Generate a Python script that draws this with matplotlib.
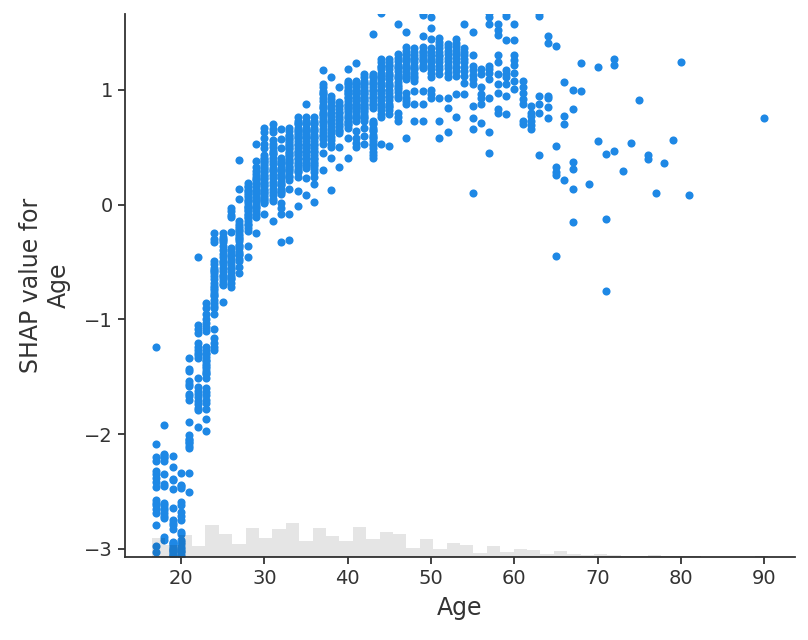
import numpy as np
import matplotlib
matplotlib.use("Agg")
from matplotlib import pyplot as plt

# SHAP values for Age (one list per age)
s17 = [-1.24, -2.09, -2.20, -2.23, -2.32, -2.38, -2.42, -2.46, -2.57, -2.62, -2.65, -2.69, -2.79, -2.97, -3.03, -2.60, -2.35]
s18 = [-1.92, -2.17, -2.20, -2.23, -2.35, -2.43, -2.60, -2.64, -2.69, -2.73, -2.90, -2.92, -2.18, -2.62, -2.66, -2.71, -2.45, -2.21]
s19 = [-2.19, -2.29, -2.39, -2.48, -2.64, -2.75, -2.79, -2.83, -2.94, -2.97, -3.00, -3.03, -3.06, -2.96, -3.01, -3.04,
       -2.99, -2.77, -2.40, -2.95, -3.02, -3.05]
s20 = [-2.34, -2.44, -2.47, -2.59, -2.68, -2.75, -2.85, -2.94, -2.98, -3.03, -3.07, -2.96, -3.00, -3.05, -2.92, -2.87,
       -2.62, -2.71, -2.45, -3.02]
s21 = [-1.34, -1.43, -1.54, -1.56, -1.65, -1.70, -1.89, -2.01, -2.04, -2.07, -2.10, -2.12, -2.34, -2.50, -1.58, -1.67,
       -2.05, -1.45, -2.08]
s22 = [-0.46, -1.05, -1.08, -1.12, -1.21, -1.24, -1.27, -1.31, -1.34, -1.51, -1.59, -1.62, -1.65, -1.68, -1.71, -1.74,
       -1.77, -1.79, -1.94, -1.29]
s23 = [-0.86, -0.90, -0.95, -1.00, -1.03, -1.07, -1.10, -1.24, -1.27, -1.30, -1.33, -1.36, -1.39, -1.42, -1.45, -1.48,
       -1.51, -1.60, -1.63, -1.66, -1.70, -1.73, -1.78, -1.87, -1.97, -1.29, -1.35, -1.41, -1.47]
s24 = [-0.25, -0.30, -0.33, -0.49, -0.52, -0.55, -0.58, -0.60, -0.62, -0.68, -0.71, -0.74, -0.77, -0.80, -0.83, -0.86,
       -0.90, -0.95, -1.08, -1.16, -1.21, -1.24, -1.27, -0.65, -0.73, -0.79, -0.57, -0.88]
s25 = [-0.25, -0.28, -0.31, -0.33, -0.43, -0.46, -0.49, -0.52, -0.55, -0.58, -0.61, -0.64, -0.67, -0.69, -0.85, -0.36,
       -0.40, -0.50, -0.62, -0.30, -0.70]
s26 = [-0.03, -0.06, -0.09, -0.11, -0.24, -0.38, -0.41, -0.44, -0.47, -0.50, -0.53, -0.56, -0.59, -0.62, -0.65, -0.68,
       -0.72, -0.45, -0.55, -0.64, -0.40]
s27 = [0.39, 0.14, 0.05, -0.14, -0.17, -0.20, -0.23, -0.26, -0.29, -0.32, -0.35, -0.38, -0.41, -0.44, -0.47, -0.49,
       -0.54, -0.60, -0.22, -0.30, -0.36, -0.43, -0.19, -0.27]
s28 = [0.19, 0.16, 0.13, 0.10, 0.07, 0.04, 0.01, -0.02, -0.05, -0.08, -0.11, -0.14, -0.17, -0.20, -0.23, -0.36, -0.46,
       0.12, 0.03, -0.06, -0.12, 0.08, -0.01, -0.18, 0.15, -0.09, -0.03]
s29 = [0.53, 0.38, 0.33, 0.29, 0.24, 0.21, 0.18, 0.15, 0.12, 0.09, 0.06, 0.03, 0.00, -0.03, -0.06, -0.08, -0.11, -0.25,
       0.27, 0.19, 0.10, 0.04, -0.02, 0.13, 0.22, 0.07]
s30 = [0.67, 0.63, 0.53, 0.49, 0.43, 0.40, 0.37, 0.34, 0.31, 0.28, 0.25, 0.22, 0.19, 0.16, 0.13, 0.10, 0.07, 0.04, 0.01,
       -0.08, 0.41, 0.35, 0.29, 0.23, 0.17, 0.11, 0.05, 0.38, 0.26, 0.14, 0.02, 0.32, 0.20, 0.08, 0.58]
s31 = [0.70, 0.66, 0.63, 0.56, 0.53, 0.50, 0.47, 0.44, 0.41, 0.38, 0.35, 0.32, 0.29, 0.26, 0.23, 0.20, 0.17, 0.14, 0.11,
       0.08, 0.05, 0.03, -0.14, 0.45, 0.30]
s32 = [0.66, 0.57, 0.49, 0.41, 0.38, 0.35, 0.32, 0.29, 0.26, 0.23, 0.20, 0.17, 0.14, 0.11, 0.09, 0.01, -0.03, -0.08,
       -0.33, 0.36, 0.30, 0.24, 0.18, 0.12, 0.27]
s33 = [0.67, 0.64, 0.61, 0.58, 0.55, 0.52, 0.49, 0.46, 0.43, 0.40, 0.37, 0.34, 0.31, 0.28, 0.25, 0.21, 0.14, -0.08,
       -0.31, 0.60, 0.54, 0.48, 0.42, 0.36, 0.30, 0.24, 0.57, 0.45, 0.33, 0.51, 0.39]
s34 = [0.76, 0.73, 0.70, 0.67, 0.64, 0.61, 0.58, 0.55, 0.52, 0.49, 0.46, 0.43, 0.40, 0.37, 0.34, 0.31, 0.28, 0.24, 0.12,
       -0.01, 0.71, 0.65, 0.59, 0.53, 0.47, 0.41, 0.35, 0.29, 0.62, 0.44]
s35 = [0.88, 0.76, 0.73, 0.70, 0.67, 0.64, 0.61, 0.58, 0.55, 0.52, 0.49, 0.46, 0.43, 0.40, 0.37, 0.34, 0.32, 0.23, 0.08,
       0.71, 0.65, 0.59, 0.53, 0.47, 0.41, 0.35, 0.62, 0.50]
s36 = [0.76, 0.73, 0.70, 0.67, 0.64, 0.61, 0.58, 0.55, 0.52, 0.49, 0.46, 0.43, 0.40, 0.37, 0.34, 0.31, 0.28, 0.24, 0.18,
       0.02, 0.71, 0.65, 0.59, 0.53, 0.47, 0.41, 0.35]
s37 = [1.17, 1.05, 1.02, 0.99, 0.96, 0.93, 0.90, 0.87, 0.84, 0.81, 0.78, 0.75, 0.72, 0.69, 0.66, 0.63, 0.60, 0.57, 0.53,
       0.45, 0.30, 0.97, 0.85, 0.73, 0.61, 0.79]
s38 = [1.11, 0.95, 0.92, 0.89, 0.86, 0.83, 0.80, 0.77, 0.74, 0.71, 0.68, 0.65, 0.62, 0.59, 0.56, 0.53, 0.50, 0.41, 0.13]
s39 = [1.02, 0.89, 0.86, 0.83, 0.80, 0.77, 0.74, 0.71, 0.68, 0.65, 0.62, 0.50, 0.33, 0.87, 0.81, 0.75, 0.69, 0.64]
s40 = [1.18, 1.08, 1.05, 1.02, 0.99, 0.96, 0.93, 0.90, 0.87, 0.84, 0.81, 0.78, 0.75, 0.72, 0.69, 0.67, 0.58, 0.41, 1.06,
       1.00, 0.94, 0.88, 0.82, 0.76, 0.70, 0.97, 0.85, 0.73]
s41 = [1.23, 1.08, 1.05, 1.02, 0.99, 0.96, 0.93, 0.90, 0.87, 0.84, 0.81, 0.78, 0.75, 0.73, 0.64, 0.58, 0.54, 0.50, 1.06,
       1.00, 0.94, 0.88, 0.82, 0.76, 0.97, 0.85, 0.91, 1.03]
s42 = [1.14, 1.11, 1.08, 1.05, 1.02, 0.99, 0.96, 0.93, 0.90, 0.87, 0.84, 0.81, 0.78, 0.75, 0.73, 0.67, 0.60, 0.53, 1.06,
       1.00, 0.94, 0.88, 0.82, 0.76, 0.97, 0.91, 0.85]
s43 = [1.49, 1.14, 1.11, 1.08, 1.05, 1.02, 0.99, 0.96, 0.93, 0.90, 0.87, 0.84, 0.73, 0.70, 0.67, 0.64, 0.61, 0.58, 0.55,
       0.52, 0.49, 0.46, 0.43, 0.41, 1.12, 1.06, 1.00, 0.94, 0.88, 0.71, 0.65, 0.59, 0.53]
s44 = [1.67, 1.27, 1.24, 1.21, 1.18, 1.15, 1.12, 1.09, 1.06, 1.03, 1.00, 0.97, 0.94, 0.91, 0.88, 0.85, 0.82, 0.79, 0.76,
       0.53, 1.20, 1.10, 1.00]
s45 = [1.27, 1.24, 1.21, 1.18, 1.15, 1.12, 1.09, 1.06, 1.03, 1.00, 0.97, 0.94, 0.91, 0.88, 0.85, 0.82, 0.79, 0.51, 1.22,
       1.13, 1.04, 0.95, 0.86]
s46 = [1.57, 1.31, 1.28, 1.25, 1.22, 1.19, 1.16, 1.13, 1.10, 1.07, 1.04, 1.01, 0.98, 0.95, 0.93, 0.80, 0.76, 0.73, 1.20,
       1.11, 1.02]
s47 = [1.50, 1.37, 1.34, 1.31, 1.28, 1.25, 1.22, 1.19, 1.16, 1.13, 1.09, 0.97, 0.93, 0.90, 0.88, 0.58, 1.30, 1.20, 1.11,
       1.26, 1.15]
s48 = [1.36, 1.33, 1.30, 1.27, 1.24, 1.21, 1.18, 1.15, 1.12, 1.08, 0.99, 0.88, 0.73, 1.70, 1.28, 1.19, 1.10]
s49 = [1.67, 1.65, 1.47, 1.37, 1.34, 1.31, 1.28, 1.25, 1.22, 1.19, 0.99, 0.88, 0.73, 1.33, 1.26, 1.20, 1.29]
s50 = [1.63, 1.54, 1.44, 1.36, 1.33, 1.30, 1.27, 1.24, 1.21, 1.18, 1.15, 1.11, 1.00, 0.96, 0.93, 1.25]
s51 = [1.45, 1.42, 1.39, 1.36, 1.33, 1.30, 1.27, 1.24, 1.21, 1.18, 1.14, 0.93, 0.73, 0.58, 1.29]
s52 = [1.40, 1.37, 1.34, 1.31, 1.28, 1.25, 1.22, 1.19, 1.15, 1.11, 0.93, 0.84, 0.63]
s53 = [1.44, 1.41, 1.38, 1.35, 1.32, 1.28, 1.24, 1.20, 1.16, 1.12, 0.96, 0.76, 1.30]
s54 = [1.57, 1.36, 1.33, 1.30, 1.27, 1.24, 1.20, 1.16, 1.12, 1.06, 0.96]
s55 = [1.50, 1.30, 1.17, 1.13, 1.09, 1.05, 0.86, 0.75, 0.66, 0.10, 1.21]
s56 = [1.18, 1.02, 0.93, 0.88, 0.71, 1.14, 0.96]
s57 = [1.67, 1.63, 1.57, 1.21, 1.15, 1.09, 0.93, 0.63, 0.45, 1.18]
s58 = [1.57, 1.52, 1.48, 1.30, 1.24, 1.14, 1.05, 0.97, 0.83, 0.80]
s59 = [1.67, 1.64, 1.43, 1.17, 1.11, 1.05, 0.95, 0.79, 1.14]
s60 = [1.57, 1.43, 1.30, 1.22, 1.15, 1.08, 1.01, 1.26]
s61 = [1.08, 0.97, 0.88, 0.73, 0.70, 0.92, 1.02]
s62 = [0.86, 0.80, 0.73, 0.66, 0.69, 0.77]
s63 = [1.67, 1.64, 0.95, 0.88, 0.80, 0.43]
s64 = [1.47, 1.41, 0.95, 0.93, 0.85, 0.75]
s65 = [1.38, 0.51, 0.33, 0.28, 0.26, -0.45]
s66 = [1.07, 0.77, 0.70, 0.21]
s67 = [1.00, 0.83, 0.37, 0.31, 0.14, -0.15]
s68 = [1.23, 0.99]
s69 = [0.18]
s70 = [1.20, 0.55]
s71 = [0.44, -0.13, -0.75]
s72 = [1.27, 1.22, 0.47]
s73 = [0.29]
s74 = [0.54]
s75 = [0.91]
s76 = [0.43, 0.40]
s77 = [0.10]
s78 = [0.36]
s79 = [0.56]
s80 = [1.24]
s81 = [0.08]
s90 = [0.75]

columns = [(17, s17), (18, s18), (19, s19), (20, s20), (21, s21), (22, s22), (23, s23), (24, s24),
           (25, s25), (26, s26), (27, s27), (28, s28), (29, s29), (30, s30), (31, s31), (32, s32),
           (33, s33), (34, s34), (35, s35), (36, s36), (37, s37), (38, s38), (39, s39), (40, s40),
           (41, s41), (42, s42), (43, s43), (44, s44), (45, s45), (46, s46), (47, s47), (48, s48),
           (49, s49), (50, s50), (51, s51), (52, s52), (53, s53), (54, s54), (55, s55), (56, s56),
           (57, s57), (58, s58), (59, s59), (60, s60), (61, s61), (62, s62), (63, s63), (64, s64),
           (65, s65), (66, s66), (67, s67), (68, s68), (69, s69), (70, s70), (71, s71), (72, s72),
           (73, s73), (74, s74), (75, s75), (76, s76), (77, s77), (78, s78), (79, s79), (80, s80),
           (81, s81), (90, s90)]

xv = np.concatenate([np.full(len(v), a, dtype=float) for a, v in columns])
sv = np.concatenate([np.array(v, dtype=float) for a, v in columns])

axis_color = "#333333"
blue = "#1E88E5"

fig = plt.figure(figsize=(8.08, 6.4), dpi=100)
ax = fig.add_axes([0.1547, 0.1297, 0.8292, 0.8484])

ax.scatter(xv, sv, s=34, color=blue, linewidth=0)

ax.set_xlim(13.28, 93.68)
ax.set_ylim(-3.07, 1.66)

# grey histogram of the feature drawn on a twin axis (over the dots, like shap does)
ax2 = ax.twinx()
ax2.hist(xv, 50, range=ax.get_xlim(), facecolor="#000000", alpha=0.1, zorder=-1)
ax2.set_ylim(0, len(xv))
ax2.set_yticks([])
for sp in ax2.spines.values():
    sp.set_visible(False)

ax.set_xticks([20, 30, 40, 50, 60, 70, 80, 90])
ax.set_yticks([-3, -2, -1, 0, 1])
ax.set_yticklabels(["\u22123", "\u22122", "\u22121", "0", "1"])

ax.spines["top"].set_visible(False)
ax.spines["right"].set_visible(False)
ax.spines["left"].set_color(axis_color)
ax.spines["bottom"].set_color(axis_color)
ax.spines["left"].set_linewidth(1.3)
ax.spines["bottom"].set_linewidth(1.3)
ax.tick_params(colors=axis_color, labelcolor=axis_color, labelsize=14, length=5, width=1.3)

ax.set_xlabel("Age", fontsize=17, color=axis_color, labelpad=6)
ax.set_ylabel("SHAP value for\nAge", fontsize=17, color=axis_color, labelpad=10)

fig.savefig("out.png", dpi=100)
